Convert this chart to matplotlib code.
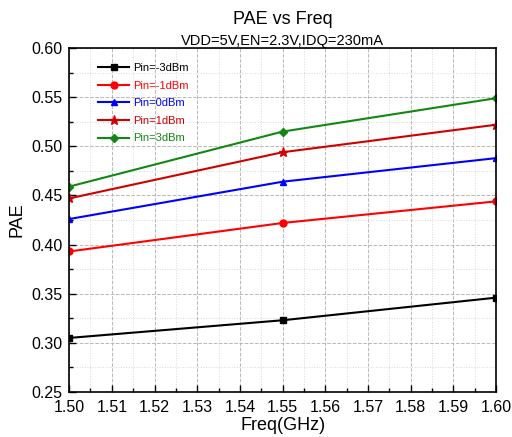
import matplotlib
matplotlib.use('Agg')
import matplotlib.pyplot as plt
from matplotlib.ticker import MultipleLocator

plt.rcParams['font.family'] = ['Liberation Sans', 'DejaVu Sans']

freq = [1.50, 1.55, 1.60]
pin_m3 = [0.305, 0.323, 0.346]
pin_m1 = [0.393, 0.422, 0.444]
pin_0 = [0.426, 0.464, 0.488]
pin_1 = [0.447, 0.494, 0.522]
pin_3 = [0.459, 0.515, 0.549]

labels = ['Pin=-3dBm', 'Pin=-1dBm', 'Pin=0dBm', 'Pin=1dBm', 'Pin=3dBm']
colors = ['black', '#FF0000', '#0000FF', '#D00000', '#118811']
markers = ['s', 'o', '^', '*', 'D']
sizes = [5, 5, 5, 6.5, 4.5]

fig = plt.figure(figsize=(5.12, 4.37), dpi=100)
ax = fig.add_axes([0.135, 0.103, 0.834, 0.787])

series = [pin_m3, pin_m1, pin_0, pin_1, pin_3]
for vals, lab, c, m, s in zip(series, labels, colors, markers, sizes):
    ax.plot(freq, vals, color=c, marker=m, markersize=s, linewidth=1.5, label=lab)

ax.set_xlim(1.50, 1.60)
ax.set_ylim(0.25, 0.60)
ax.xaxis.set_major_locator(MultipleLocator(0.01))
ax.xaxis.set_minor_locator(MultipleLocator(0.005))
ax.yaxis.set_major_locator(MultipleLocator(0.05))
ax.yaxis.set_minor_locator(MultipleLocator(0.025))
ax.xaxis.set_major_formatter(plt.FormatStrFormatter('%.2f'))
ax.yaxis.set_major_formatter(plt.FormatStrFormatter('%.2f'))
ax.tick_params(which='both', direction='in', top=False, right=False, labelsize=11.5)
ax.tick_params(axis='x', pad=6)
ax.tick_params(axis='y', pad=5)
ax.tick_params(which='major', length=5, width=1)
ax.tick_params(which='minor', length=3, width=1)

ax.grid(which='major', linestyle='--', color='#b8b8b8', linewidth=0.7)
ax.grid(which='minor', linestyle=':', color='#d8d8d8', linewidth=0.7)
for sp in ax.spines.values():
    sp.set_linewidth(1.2)

ax.set_xlabel('Freq(GHz)', fontsize=13, labelpad=1)
ax.set_ylabel('PAE', fontsize=13)
fig.text(0.552, 0.945, 'PAE vs Freq', ha='center', fontsize=13)
fig.text(0.552, 0.897, 'VDD=5V,EN=2.3V,IDQ=230mA', ha='center', fontsize=10.5)

leg = ax.legend(loc='upper left', frameon=False, fontsize=8, handlelength=2.8,
                handletextpad=0.35, labelspacing=0.68, bbox_to_anchor=(0.045, 0.985))
for t, c in zip(leg.get_texts(), colors):
    t.set_color(c)

fig.savefig('out.png', dpi=100)
